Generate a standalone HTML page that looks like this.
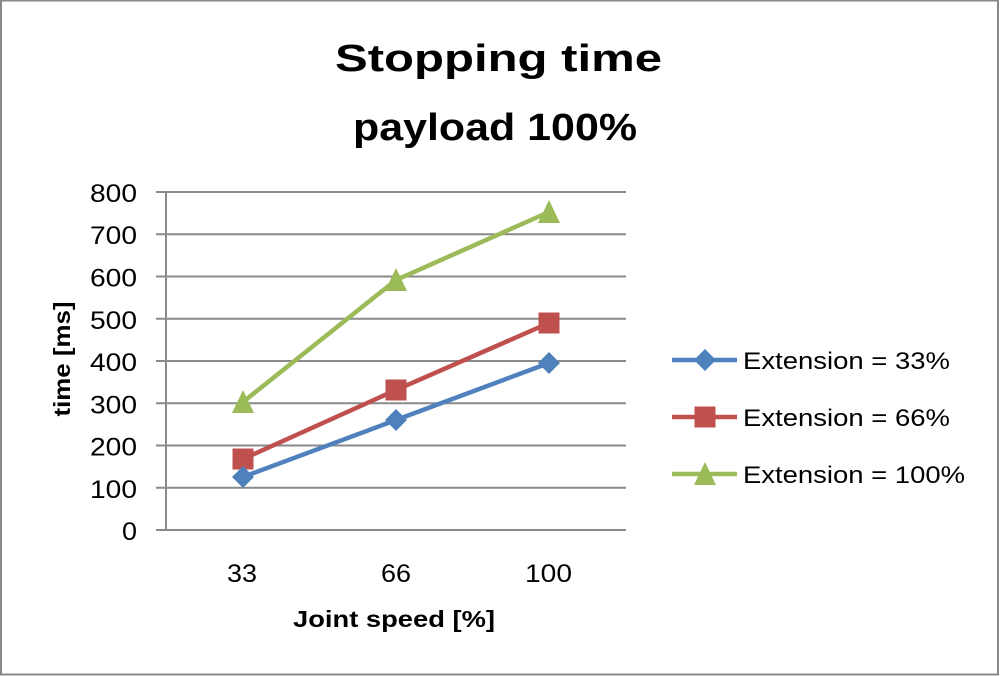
<!DOCTYPE html>
<html>
<head>
<meta charset="utf-8">
<style>
  html,body{margin:0;padding:0;background:#fff;}
  svg{display:block;}
  text{font-family:"Liberation Sans",Arial,sans-serif;fill:#000;}
</style>
</head>
<body>
<svg width="1000" height="676" viewBox="0 0 1000 676" xmlns="http://www.w3.org/2000/svg">
  <rect x="0" y="0" width="1000" height="676" fill="#fff"/>
  <!-- frame -->
  <rect x="1" y="0.5" width="997" height="674" fill="none" stroke="#888" stroke-width="2"/>

  <!-- title -->
  <text x="335" y="71" font-size="38" font-weight="bold" textLength="327" lengthAdjust="spacingAndGlyphs">Stopping time</text>
  <text x="353" y="140" font-size="38" font-weight="bold" textLength="284" lengthAdjust="spacingAndGlyphs">payload 100%</text>

  <!-- gridlines -->
  <g stroke="#8a8a8a" stroke-width="2">
    <line x1="156" y1="192" x2="626" y2="192"/>
    <line x1="156" y1="234.25" x2="626" y2="234.25"/>
    <line x1="156" y1="276.5" x2="626" y2="276.5"/>
    <line x1="156" y1="318.75" x2="626" y2="318.75"/>
    <line x1="156" y1="361" x2="626" y2="361"/>
    <line x1="156" y1="403.25" x2="626" y2="403.25"/>
    <line x1="156" y1="445.5" x2="626" y2="445.5"/>
    <line x1="156" y1="487.75" x2="626" y2="487.75"/>
    <line x1="156" y1="530" x2="626" y2="530"/>
    <line x1="166" y1="192" x2="166" y2="531"/>
  </g>

  <!-- y tick labels -->
  <g font-size="25" text-anchor="end">
    <text x="137" y="202" textLength="47" lengthAdjust="spacingAndGlyphs">800</text>
    <text x="137" y="244" textLength="47" lengthAdjust="spacingAndGlyphs">700</text>
    <text x="137" y="286.5" textLength="47" lengthAdjust="spacingAndGlyphs">600</text>
    <text x="137" y="328.75" textLength="47" lengthAdjust="spacingAndGlyphs">500</text>
    <text x="137" y="371" textLength="47" lengthAdjust="spacingAndGlyphs">400</text>
    <text x="137" y="413.25" textLength="47" lengthAdjust="spacingAndGlyphs">300</text>
    <text x="137" y="455.5" textLength="47" lengthAdjust="spacingAndGlyphs">200</text>
    <text x="137" y="497.75" textLength="47" lengthAdjust="spacingAndGlyphs">100</text>
    <text x="137" y="540" textLength="15" lengthAdjust="spacingAndGlyphs">0</text>
  </g>

  <!-- x tick labels -->
  <g font-size="25">
    <text x="227" y="582" textLength="30" lengthAdjust="spacingAndGlyphs">33</text>
    <text x="381" y="582" textLength="30" lengthAdjust="spacingAndGlyphs">66</text>
    <text x="525" y="582" textLength="47" lengthAdjust="spacingAndGlyphs">100</text>
  </g>

  <!-- axis titles -->
  <text x="293" y="627" font-size="23" font-weight="bold" textLength="202" lengthAdjust="spacingAndGlyphs">Joint speed [%]</text>
  <text transform="translate(70,359) rotate(-90)" x="0" y="0" font-size="23" font-weight="bold" text-anchor="middle" textLength="115" lengthAdjust="spacingAndGlyphs">time [ms]</text>

  <!-- series: green -->
  <polyline points="243,402 396,280 549,212" fill="none" stroke="#9BBB59" stroke-width="4.5" stroke-linejoin="round"/>
  <g fill="#9BBB59">
    <polygon points="243,390 254,413 232,413"/>
    <polygon points="396,268 407,291 385,291"/>
    <polygon points="549,200 560,223 538,223"/>
  </g>

  <!-- series: red -->
  <polyline points="243,459 396,390 549,323" fill="none" stroke="#C0504D" stroke-width="4.5" stroke-linejoin="round"/>
  <g fill="#C0504D">
    <rect x="232.5" y="448.5" width="21" height="21"/>
    <rect x="385.5" y="379.5" width="21" height="21"/>
    <rect x="538.5" y="312.5" width="21" height="21"/>
  </g>

  <!-- series: blue -->
  <polyline points="243,477 396,420 549,363" fill="none" stroke="#4F81BD" stroke-width="4.5" stroke-linejoin="round"/>
  <g fill="#4F81BD">
    <polygon points="243,466 254,477 243,488 232,477"/>
    <polygon points="396,409 407,420 396,431 385,420"/>
    <polygon points="549,352 560,363 549,374 538,363"/>
  </g>

  <!-- legend -->
  <line x1="672" y1="360" x2="737" y2="360" stroke="#4F81BD" stroke-width="4.5"/>
  <polygon points="705,349 716,360 705,371 694,360" fill="#4F81BD"/>
  <text x="743" y="369" font-size="24" textLength="207" lengthAdjust="spacingAndGlyphs">Extension = 33%</text>

  <line x1="672" y1="417" x2="737" y2="417" stroke="#C0504D" stroke-width="4.5"/>
  <rect x="694.5" y="406.5" width="21" height="21" fill="#C0504D"/>
  <text x="743" y="426" font-size="24" textLength="207" lengthAdjust="spacingAndGlyphs">Extension = 66%</text>

  <line x1="672" y1="474" x2="737" y2="474" stroke="#9BBB59" stroke-width="4.5"/>
  <polygon points="705,462 716,485 694,485" fill="#9BBB59"/>
  <text x="743" y="483" font-size="24" textLength="222" lengthAdjust="spacingAndGlyphs">Extension = 100%</text>
</svg>
</body>
</html>
